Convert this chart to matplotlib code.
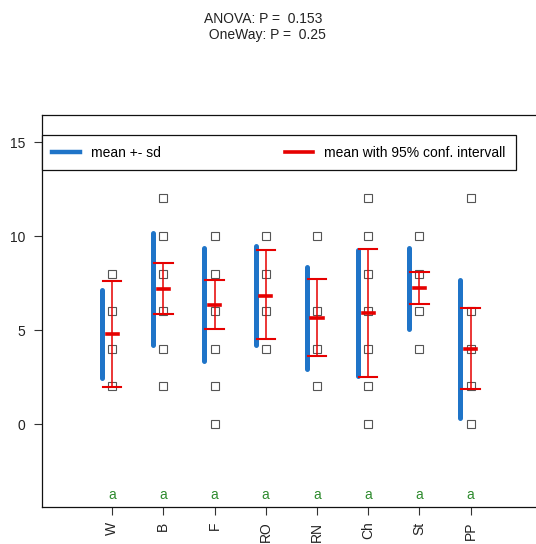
import matplotlib
matplotlib.use("Agg")
import matplotlib.pyplot as plt
from matplotlib.lines import Line2D

plt.rcParams['font.family'] = ['Liberation Sans', 'DejaVu Sans']

categories = ["W", "B", "F", "RO", "RN", "Ch", "St", "PP"]
points = [
    [8, 6, 4, 2],
    [12, 10, 8, 6, 4, 2],
    [10, 8, 6, 4, 2, 0],
    [10, 8, 6, 4],
    [10, 6, 4, 2],
    [12, 10, 8, 6, 4, 2, 0],
    [10, 8, 6, 4],
    [12, 6, 4, 2, 0],
]
sd_low = [2.43, 4.18, 3.33, 4.23, 2.91, 2.54, 5.08, 0.32]
sd_high = [7.14, 10.16, 9.37, 9.47, 8.36, 9.26, 9.37, 7.67]
means = [4.78, 7.20, 6.35, 6.83, 5.63, 5.92, 7.24, 3.98]
ci_low = [1.96, 5.87, 5.08, 4.50, 3.60, 2.49, 6.40, 1.85]
ci_high = [7.62, 8.57, 7.67, 9.26, 7.72, 9.31, 8.10, 6.19]
letters = ["a"] * 8
yticks = [0, 5, 10, 15]
title_text = "ANOVA: P =  0.153 \n OneWay: P =  0.25"

W, H = 536, 544
fig = plt.figure(figsize=(W / 100, H / 100), dpi=100)

xlim = (-0.37, 10.5)
ylim = (-4.41, 16.44)
px_per_x = 51.2
ax_left, ax_bottom, ax_top = 42, 37, 429
ax_w = (xlim[1] - xlim[0]) * px_per_x
ax = fig.add_axes([ax_left / W, ax_bottom / H, ax_w / W, (ax_top - ax_bottom) / H])
ax.set_xlim(*xlim)
ax.set_ylim(*ylim)

blue = '#1f74c8'
red = '#e60000'
green = '#2e8b2e'

xs = list(range(1, len(categories) + 1))
for i, x in enumerate(xs):
    ax.plot([x - 0.2, x - 0.2], [sd_low[i], sd_high[i]], color=blue, lw=3.6,
            solid_capstyle='round', zorder=2)
    ax.plot([x, x], [ci_low[i], ci_high[i]], color=red, lw=1.1, zorder=3)
    for yv in (ci_low[i], ci_high[i]):
        ax.plot([x - 0.18, x + 0.18], [yv, yv], color=red, lw=1.5, zorder=3)
    ax.plot([x - 0.11, x + 0.11], [means[i], means[i]], color=red, lw=2.6, zorder=3)
    ax.plot([x] * len(points[i]), points[i], linestyle='none', marker='s',
            markersize=5.5, markerfacecolor='none', markeredgecolor='#555555',
            markeredgewidth=0.8, zorder=1)
    ax.text(x, -3.75, letters[i], color=green, ha='center', va='center', fontsize=10)

ax.set_xticks(xs)
ax.set_xticklabels(categories, rotation=90, fontsize=10)
ax.set_yticks(yticks)
ax.set_yticklabels([str(v) for v in yticks], fontsize=10)
ax.tick_params(axis='both', length=5.5, width=0.8, color='#333333', labelcolor='#222222')
ax.tick_params(axis='y', pad=6.5)
ax.tick_params(axis='x', pad=5)
for s in ax.spines.values():
    s.set_linewidth(0.9)
    s.set_color('#111111')

handles = [Line2D([], [], color=blue, lw=3.2),
           Line2D([], [], color=red, lw=2.6)]
leg = fig.legend(handles, ["mean +- sd", "mean with 95% conf. intervall"],
                 loc='lower left',
                 bbox_to_anchor=(42 / W, (H - 170) / H, 474 / W, 35 / H),
                 mode='expand', ncol=2, fancybox=False, framealpha=1,
                 edgecolor='#111111', fontsize=10, handlelength=2.0,
                 borderaxespad=0, borderpad=0.75, handletextpad=0.8)
leg.get_frame().set_linewidth(0.9)

fig.text(265 / W, 1 - 27 / H, title_text, ha='center', va='center', fontsize=10,
         color='#222222', linespacing=1.2)

fig.savefig("out.png", dpi=100)
